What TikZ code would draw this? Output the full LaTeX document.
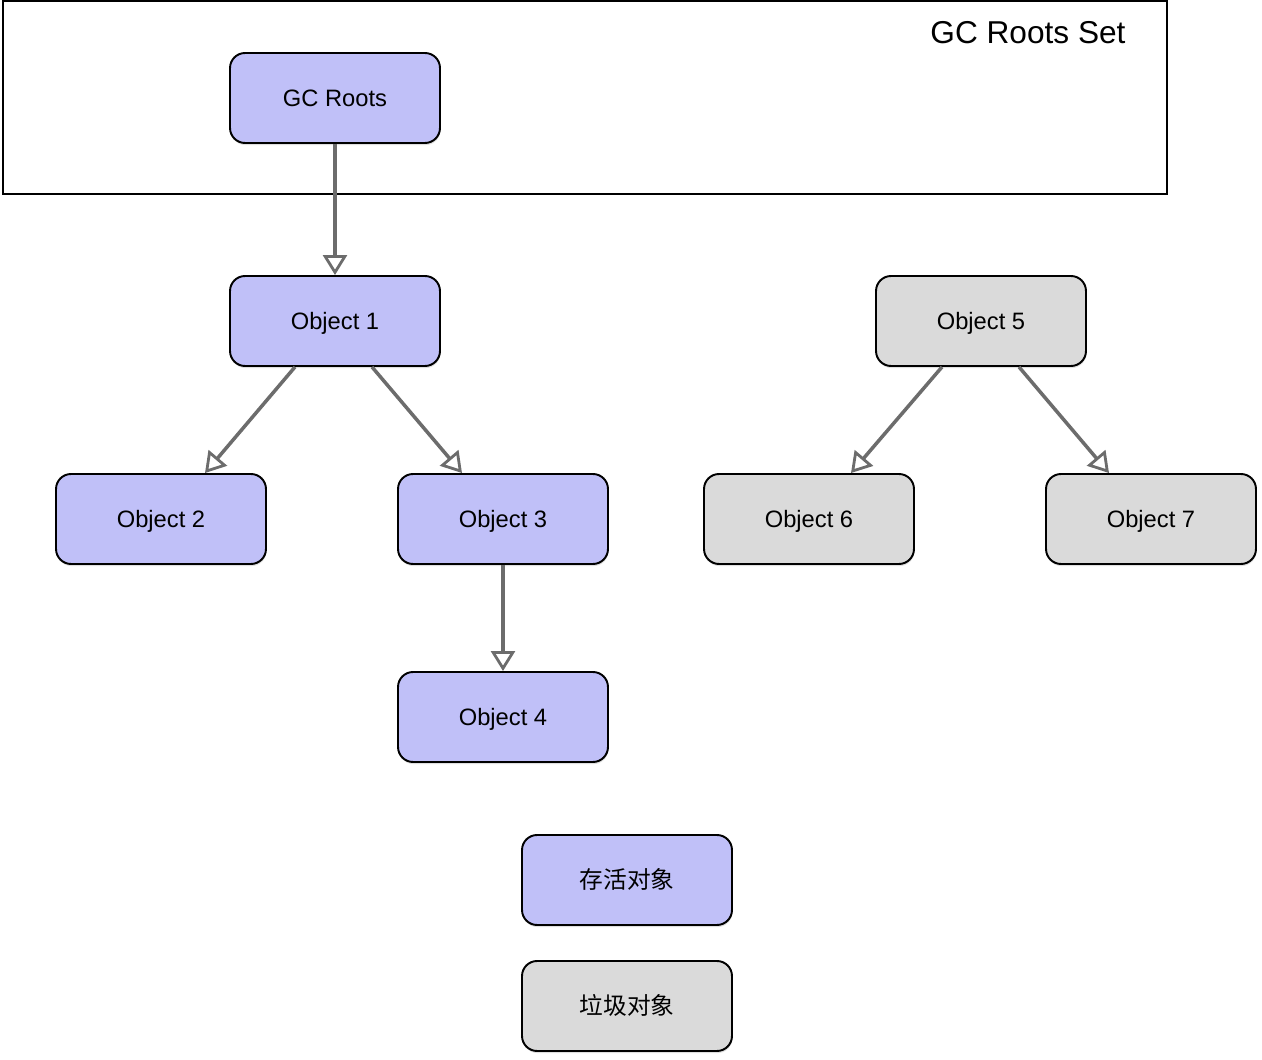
\documentclass[tikz,border=0pt]{standalone}
\usepackage{fontspec}
\setmainfont{Liberation Sans}
\newfontfamily\cjk{Noto Sans CJK SC}
\usetikzlibrary{shapes, arrows.meta, shadows}

\definecolor{liveblue}{RGB}{192,192,248}
\definecolor{deadgray}{RGB}{218,218,218}
\definecolor{refgray}{RGB}{108,108,108}

\tikzset{
  obj/.style={draw=black, line width=1.1pt, rounded corners=0.3cm,
    minimum width=4.2cm, minimum height=1.8cm, font=\fontsize{13.5}{15}\selectfont,
    text height=9.7pt, text depth=0pt,
    drop shadow={shadow xshift=0.3pt, shadow yshift=-1.2pt, opacity=0.25}},
  live/.style={obj, fill=liveblue},
  dead/.style={obj, fill=deadgray},
  ref/.style={draw=refgray, line width=2pt,
    -{Triangle[open, length=0.4cm, width=0.48cm, line width=1.6pt]}}
}

\begin{document}
\begin{tikzpicture}[x=0.02cm, y=-0.02cm]
\useasboundingbox (0,0) rectangle (1262,1060);
\draw[line width=1pt] (3,1) rectangle (1167,194);
\node[font=\fontsize{18}{20}\selectfont] (set) at (1028,33) {GC Roots Set};

\node[live] (roots) at (335,98) {GC Roots};
\node[live] (o1) at (335,321) {Object 1};
\node[live] (o2) at (161,519) {Object 2};
\node[live] (o3) at (503,519) {Object 3};
\node[live] (o4) at (503,717) {Object 4};
\node[dead] (o5) at (981,321) {Object 5};
\node[dead] (o6) at (809,519) {Object 6};
\node[dead] (o7) at (1151,519) {Object 7};

\node[live] (alive) at (627,880) {\cjk 存活对象};
\node[dead] (garbage) at (627,1006) {\cjk 垃圾对象};

\draw[ref] (roots) -- (o1);
\draw[ref] ([xshift=-0.8cm]o1.south) -- ([xshift=0.88cm]o2.north);
\draw[ref] ([xshift=0.74cm]o1.south) -- ([xshift=-0.82cm]o3.north);
\draw[ref] (o3) -- (o4);
\draw[ref] ([xshift=-0.78cm]o5.south) -- ([xshift=0.84cm]o6.north);
\draw[ref] ([xshift=0.76cm]o5.south) -- ([xshift=-0.84cm]o7.north);
\end{tikzpicture}
\end{document}
